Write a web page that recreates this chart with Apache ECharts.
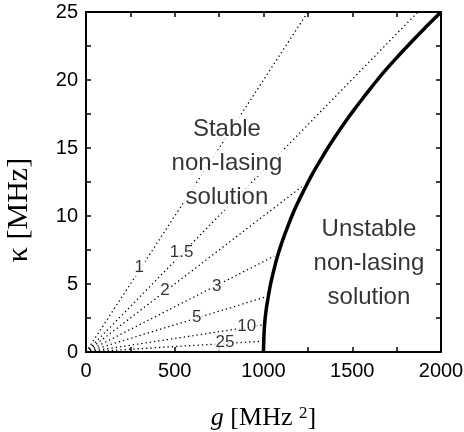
<!DOCTYPE html>
<html>
<head>
<meta charset="utf-8">
<script src="https://cdn.jsdelivr.net/npm/echarts@6/dist/echarts.min.js"></script>
<style>
  html, body { margin: 0; padding: 0; background: #fff; }
  #chart { width: 464px; height: 432px; }
</style>
</head>
<body>
<div id="chart"></div>
<script>
// boundary between stable and unstable non-lasing solution
const curveK = [0, 1, 2, 3, 4, 5, 6, 7, 8, 9, 10, 11, 12, 13, 14, 15, 16, 17, 18, 19, 20, 21, 22, 23, 24, 25]
const curveG = [1000, 1002, 1006, 1014, 1026, 1040, 1058, 1078, 1102, 1130, 1160, 1194, 1232, 1272,
  1316, 1362, 1412, 1465, 1521, 1580, 1641, 1706, 1776, 1848, 1923, 2000]

// dotted rays from the origin, labelled with their ratio
const rayLabels = ['1', '1.5', '2', '3', '5', '10', '25']
const rayEndG = [1250, 1870, 1215, 1060, 1015, 1005, 1001]
const rayEndK = [25, 25, 12.15, 7.05, 4.06, 2.0, 0.8]
const rayLabelG = [300, 539, 445, 736, 624, 905, 783]
const rayLabelK = [6.2, 7.3, 4.56, 4.8, 2.55, 1.86, 0.71]

// region captions
const regionLines = ['Stable', 'non-lasing', 'solution', 'Unstable', 'non-lasing', 'solution']
const regionG = [794, 794, 794, 1594, 1594, 1594]
const regionK = [16.4, 13.9, 11.4, 9.0, 6.5, 4.05]

const xTicks = [0, 500, 1000, 1500, 2000]
const yTicks = [0, 5, 10, 15, 20, 25]

const sans = '"Liberation Sans", Arial, Helvetica, sans-serif'
const serif = '"Liberation Serif", "Times New Roman", serif'

let chart = echarts.init(document.getElementById('chart'))

let series = []
rayLabels.forEach((lab, i) => {
  series.push({
    type: 'line',
    data: [[0, 0], [rayEndG[i], rayEndK[i]]],
    symbol: 'none',
    silent: true,
    lineStyle: { color: '#000', width: 1.3, type: [1.3, 3] },
    z: 2,
  })
})
series.push({
  type: 'line',
  data: curveG.map((g, i) => [g, curveK[i]]),
  symbol: 'none',
  smooth: true,
  silent: true,
  lineStyle: { color: '#000', width: 3.5 },
  z: 3,
})
series.push({
  type: 'scatter',
  symbolSize: 0,
  silent: true,
  data: rayLabels.map((lab, i) => [rayLabelG[i], rayLabelK[i], lab]),
  label: {
    show: true,
    position: 'inside',
    formatter: (p) => p.value[2],
    fontFamily: sans,
    fontSize: 17,
    color: '#000',
    backgroundColor: '#fff',
    padding: [0, 1],
  },
  z: 4,
})
series.push({
  type: 'scatter',
  symbolSize: 0,
  silent: true,
  data: regionLines.map((t, i) => [regionG[i], regionK[i], t]),
  label: {
    show: true,
    position: 'inside',
    formatter: (p) => p.value[2],
    fontFamily: sans,
    fontSize: 24,
    color: '#000',
    backgroundColor: '#fff',
    padding: [1, 2],
  },
  z: 5,
})

const frameLine = { show: true, onZero: false, lineStyle: { color: '#000', width: 2 } }
const ticks = { show: true, inside: true, length: 5, lineStyle: { color: '#000', width: 1.5 } }
const minor = { show: true, splitNumber: 2, length: 5, lineStyle: { color: '#000', width: 1.5 } }

let option = {
  animation: false,
  grid: { left: 86, right: 23, top: 12, bottom: 80, outerBoundsMode: 'none', containLabel: false },
  xAxis: [
    {
      type: 'value', min: 0, max: 2000, interval: 500,
      axisLine: frameLine, axisTick: ticks, minorTick: minor,
      splitLine: { show: false },
      axisLabel: {
        color: '#000', fontFamily: sans, fontSize: 20, margin: 9,
        formatter: (v) => (xTicks.indexOf(v) >= 0 ? String(v) : ''),
      },
      name: '{i|g} [MHz {s|2}]',
      nameLocation: 'middle',
      nameGap: 53,
      nameTextStyle: {
        fontFamily: serif, fontSize: 26, color: '#000',
        rich: {
          i: { fontFamily: serif, fontStyle: 'italic', fontSize: 26 },
          s: { fontFamily: serif, fontSize: 17, verticalAlign: 'top', padding: [0, 0, 10, 0] },
        },
      },
    },
    {
      type: 'value', min: 0, max: 2000, interval: 500, position: 'top',
      axisLine: frameLine, axisTick: ticks, minorTick: minor,
      splitLine: { show: false }, axisLabel: { show: false },
    },
  ],
  yAxis: [
    {
      type: 'value', min: 0, max: 25, interval: 5,
      axisLine: frameLine, axisTick: ticks, minorTick: minor,
      splitLine: { show: false },
      axisLabel: {
        color: '#000', fontFamily: sans, fontSize: 20, margin: 8,
        formatter: (v) => (yTicks.indexOf(v) >= 0 ? String(v) : ''),
      },
      name: 'κ [MHz]',
      nameLocation: 'middle',
      nameRotate: 90,
      nameGap: 52,
      nameTextStyle: { fontFamily: serif, fontSize: 30, color: '#000', padding: [0, 56, 0, 0] },
    },
    {
      type: 'value', min: 0, max: 25, interval: 5, position: 'right',
      axisLine: frameLine, axisTick: ticks, minorTick: minor,
      splitLine: { show: false }, axisLabel: { show: false },
    },
  ],
  series: series,
}
chart.setOption(option)
</script>
</body>
</html>
